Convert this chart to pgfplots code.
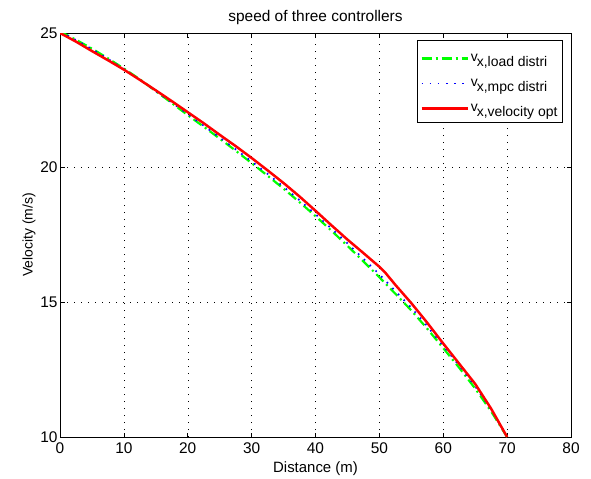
\documentclass[border=0pt]{standalone}
\usepackage{fontspec}
\setmainfont{Liberation Sans}
\usepackage{pgfplots}
\pgfplotsset{compat=1.18}
\definecolor{mgreen}{rgb}{0,1,0}
\definecolor{mblue}{rgb}{0,0,1}
\definecolor{mred}{rgb}{1,0,0}
\newcommand{\legv}[1]{\rule[-9bp]{0pt}{20bp}v\hspace{-1bp}\raisebox{-5.5bp}{#1}}
\begin{document}
\begin{tikzpicture}
\begin{axis}[
  at={(0bp,0bp)}, anchor=south west,
  scale only axis, width=511bp, height=404bp,
  xmin=0, xmax=80, ymin=10, ymax=25,
  xtick={0,10,...,80}, ytick={10,15,20,25},
  tick align=inside, tick pos=both, major tick length=4.5bp,
  tick style={black, line width=0.6pt},
  grid=major, major grid style={black, line width=0.5pt, dash pattern=on 1bp off 6bp},
  axis line style={black, line width=0.8pt},
  /pgf/number format/assume math mode=true,
  tick label style={font=\fontsize{15.5}{16}\selectfont},
  xticklabel style={yshift=-2bp},
  yticklabel style={xshift=1bp},
  xlabel={Distance (m)}, ylabel={Velocity (m/s)},
  xlabel style={font=\fontsize{15}{15}\selectfont, yshift=-1bp},
  ylabel style={font=\fontsize{14}{14}\selectfont, yshift=-2bp},
  title={speed of three controllers},
  title style={font=\fontsize{15.5}{16}\selectfont, yshift=-1bp},
  legend style={at={(0.984,0.983)}, anchor=north east, draw=black, line width=0.8pt,
    fill=white, inner xsep=3bp, inner ysep=8bp, row sep=8.5bp, cells={anchor=west},
    font=\fontsize{14}{14}\selectfont},
  legend cell align=left,
  legend image code/.code={\draw[#1] (0bp,-2bp) -- (46bp,-2bp);},
]
\addplot[mgreen, line width=2.2pt, dash pattern=on 10bp off 4bp on 2bp off 4bp] coordinates {
(0,25.05) (2.5,24.75) (5,24.42) (7.5,24.06) (10,23.68) (12.5,23.28) (15,22.84) (17.5,22.40) (20,21.95)
(22.5,21.52) (25,21.08) (27.5,20.63) (30,20.17) (32.5,19.70) (35,19.22) (37.5,18.72) (40,18.20)
(42.5,17.66) (45,17.10) (47.5,16.52) (50,15.93) (52.5,15.32) (55,14.70) (57.5,14.02) (60,13.30)
(62.5,12.57) (65,11.80) (67.5,10.95) (70,10.0)};
\addlegendentry{\legv{x,load distri}}
\addplot[mblue, line width=1.7pt, dash pattern=on 1.6bp off 6.5bp] coordinates {
(0,25.05) (2.5,24.74) (5,24.40) (7.5,24.04) (10,23.66) (12.5,23.26) (15,22.84) (17.5,22.42) (20,21.99)
(22.5,21.56) (25,21.12) (27.5,20.68) (30,20.23) (32.5,19.77) (35,19.29) (37.5,18.79) (40,18.27)
(42.5,17.74) (45,17.19) (47.5,16.62) (50,16.04) (52.5,15.42) (55,14.80) (57.5,14.11) (60,13.38)
(62.5,12.65) (65,11.88) (67.5,11.02) (69.9,10.05)};
\addlegendentry{\legv{x,mpc distri}}
\addplot[mred, line width=2.5pt] coordinates {
(0,25.0) (2.5,24.68) (5,24.33) (7.5,23.99) (10,23.64) (12.5,23.26) (15,22.87) (17.5,22.47) (20,22.06)
(22.5,21.65) (25,21.22) (27.5,20.80) (30,20.36) (32.5,19.90) (35,19.43) (37.5,18.93) (40,18.40)
(42.5,17.86) (45,17.33) (47.5,16.83) (50,16.32) (51,16.08) (52.5,15.65) (55,14.97) (57.5,14.24) (60,13.47)
(62.5,12.72) (65,11.97) (67.5,11.05) (70,10.0)};
\addlegendentry{\legv{x,velocity opt}}
\end{axis}
\path[use as bounding box] (-60bp,-40bp) rectangle (531bp,437bp);
\end{tikzpicture}
\end{document}
